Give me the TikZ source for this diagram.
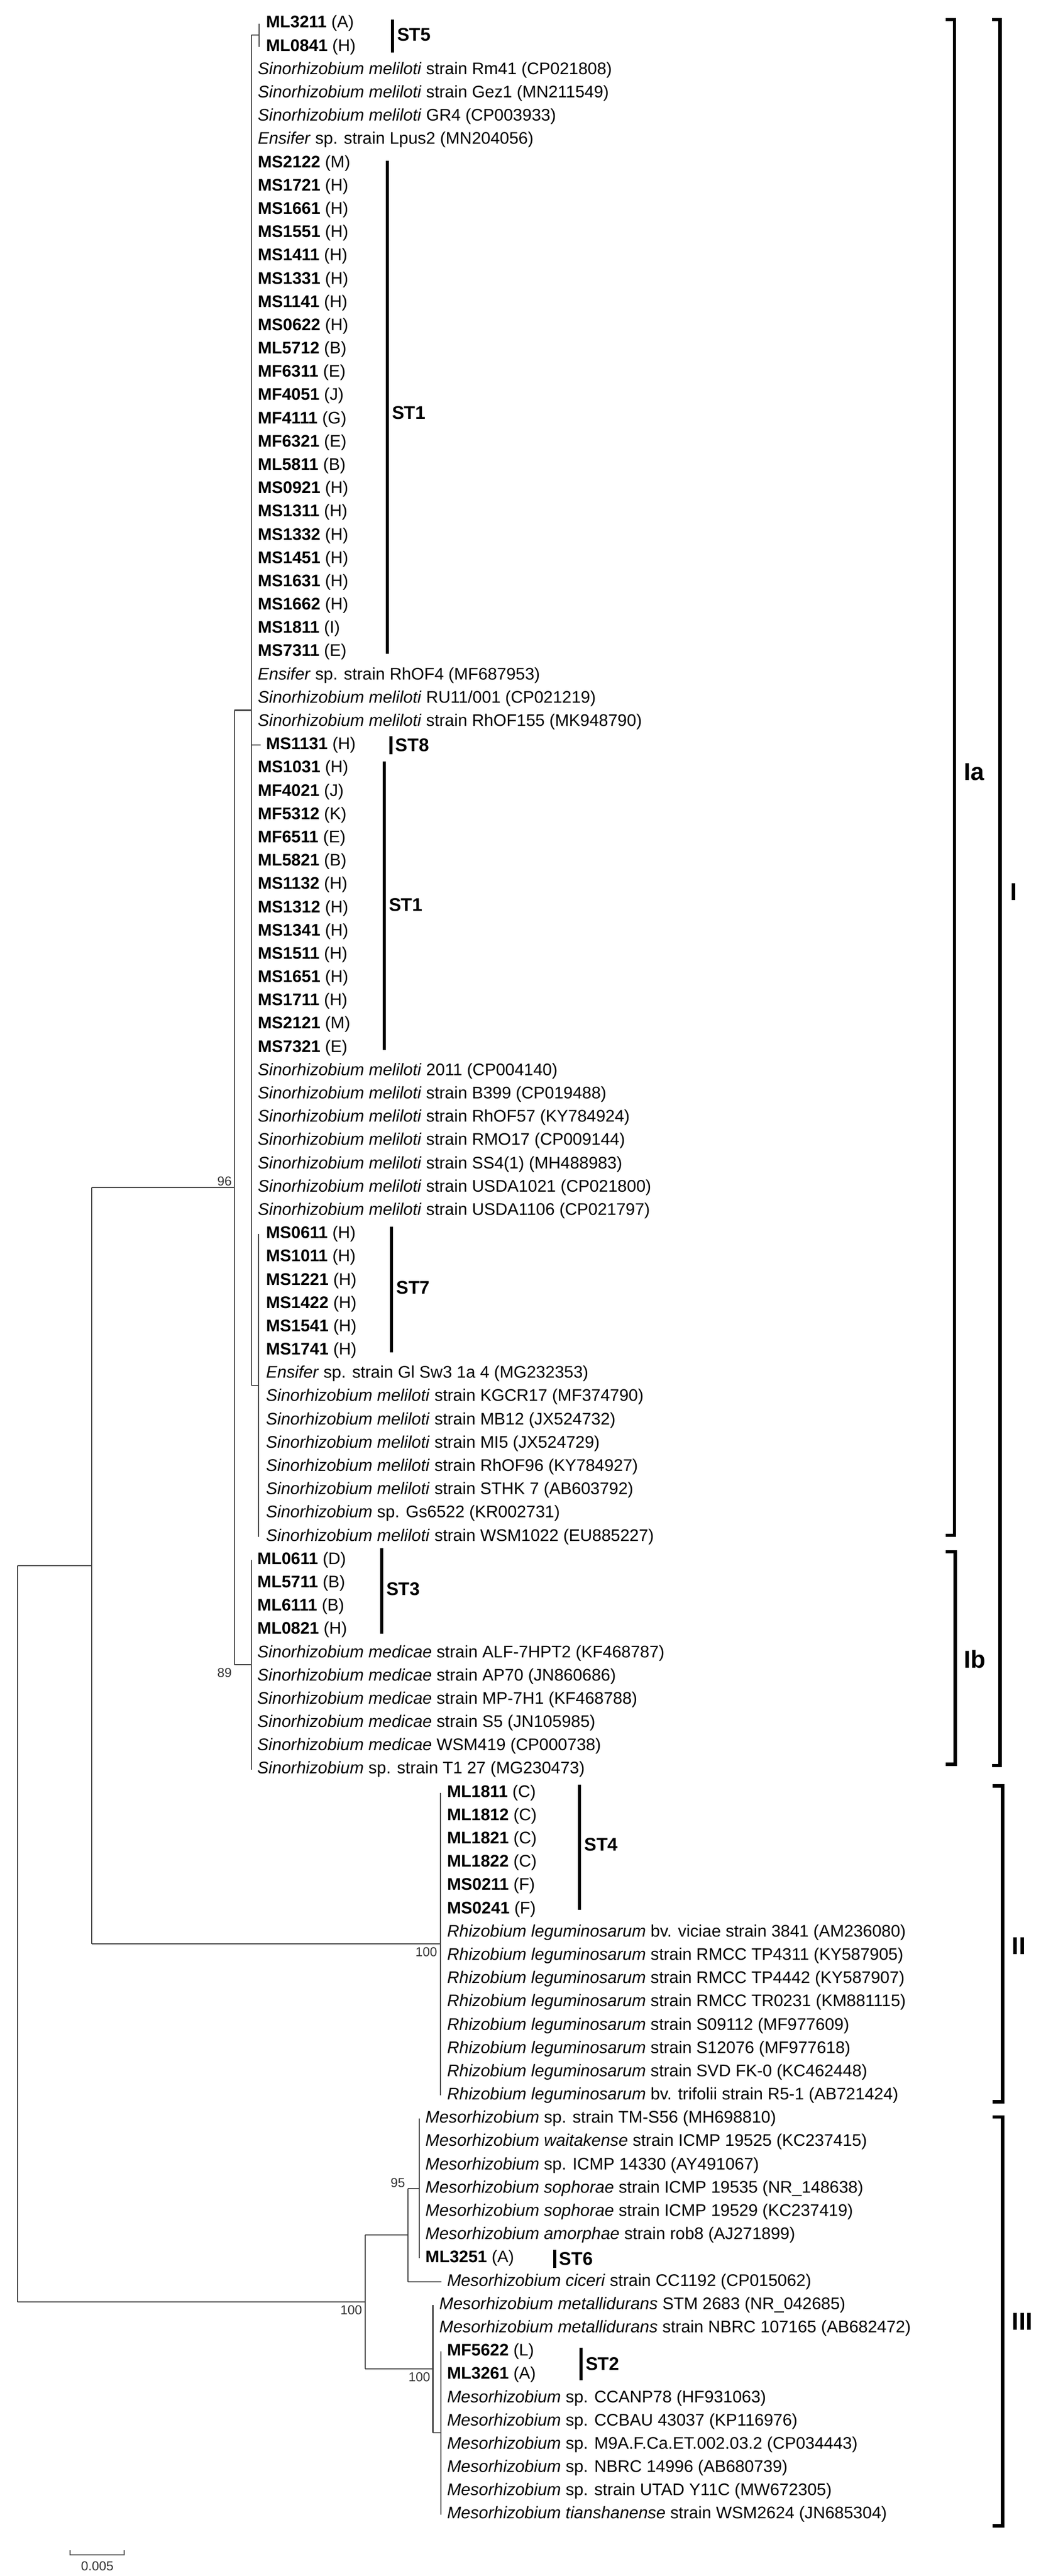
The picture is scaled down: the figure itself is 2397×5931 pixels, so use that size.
\documentclass[tikz,border=0pt]{standalone}
\usepackage{fontspec}
\setmainfont{Liberation Sans}
\newcommand\bn[1]{\textbf{#1}}
\newcommand\sn[1]{\textit{#1}}
\begin{document}
\begin{tikzpicture}[x=0.01cm,y=-0.01cm,
  br/.style={draw=black!75,line width=0.7pt},
  lf/.style={anchor=west,inner sep=0pt,font=\fontsize{11}{13}\selectfont},
  bs/.style={inner sep=1pt,font=\fontsize{8.5}{10}\selectfont,text=black!80},
  stbar/.style={line width=2pt},
  stlab/.style={anchor=west,inner sep=0pt,font=\fontsize{12}{14}\selectfont\bfseries},
  brk/.style={line width=2.2pt},
  brklab/.style={anchor=west,inner sep=0pt,font=\fontsize{16}{18}\selectfont\bfseries}]
\useasboundingbox (0,0) rectangle (2397,5931);
% ---------- leaves ----------
\foreach [count=\i] \t in {{\bn{ML3211} (A)},{\bn{ML0841} (H)}}
  \node[lf] (L\i) at (612,{54+53.6*(\i-1)}) {\t};
\foreach [count=\i from 3] \t in {
 {\sn{Sinorhizobium meliloti} strain Rm41 (CP021808)},
 {\sn{Sinorhizobium meliloti} strain Gez1 (MN211549)},
 {\sn{Sinorhizobium meliloti} GR4 (CP003933)},
 {\sn{Ensifer} sp. strain Lpus2 (MN204056)},
 {\bn{MS2122} (M)},{\bn{MS1721} (H)},{\bn{MS1661} (H)},{\bn{MS1551} (H)},
 {\bn{MS1411} (H)},{\bn{MS1331} (H)},{\bn{MS1141} (H)},{\bn{MS0622} (H)},
 {\bn{ML5712} (B)},{\bn{MF6311} (E)},{\bn{MF4051} (J)},{\bn{MF4111} (G)},
 {\bn{MF6321} (E)},{\bn{ML5811} (B)},{\bn{MS0921} (H)},{\bn{MS1311} (H)},
 {\bn{MS1332} (H)},{\bn{MS1451} (H)},{\bn{MS1631} (H)},{\bn{MS1662} (H)},
 {\bn{MS1811} (I)},{\bn{MS7311} (E)},
 {\sn{Ensifer} sp. strain RhOF4 (MF687953)},
 {\sn{Sinorhizobium meliloti} RU11/001 (CP021219)},
 {\sn{Sinorhizobium meliloti} strain RhOF155 (MK948790)}}
  \node[lf] (L\i) at (593,{54+53.6*(\i-1)}) {\t};
\node[lf] (L32) at (612,1715.6) {\bn{MS1131} (H)};
\foreach [count=\i from 33] \t in {
 {\bn{MS1031} (H)},{\bn{MF4021} (J)},{\bn{MF5312} (K)},{\bn{MF6511} (E)},
 {\bn{ML5821} (B)},{\bn{MS1132} (H)},{\bn{MS1312} (H)},{\bn{MS1341} (H)},
 {\bn{MS1511} (H)},{\bn{MS1651} (H)},{\bn{MS1711} (H)},{\bn{MS2121} (M)},
 {\bn{MS7321} (E)},
 {\sn{Sinorhizobium meliloti} 2011 (CP004140)},
 {\sn{Sinorhizobium meliloti} strain B399 (CP019488)},
 {\sn{Sinorhizobium meliloti} strain RhOF57 (KY784924)},
 {\sn{Sinorhizobium meliloti} strain RMO17 (CP009144)},
 {\sn{Sinorhizobium meliloti} strain SS4(1) (MH488983)},
 {\sn{Sinorhizobium meliloti} strain USDA1021 (CP021800)},
 {\sn{Sinorhizobium meliloti} strain USDA1106 (CP021797)}}
  \node[lf] (L\i) at (593,{54+53.6*(\i-1)}) {\t};
\foreach [count=\i from 53] \t in {
 {\bn{MS0611} (H)},{\bn{MS1011} (H)},{\bn{MS1221} (H)},{\bn{MS1422} (H)},
 {\bn{MS1541} (H)},{\bn{MS1741} (H)},
 {\sn{Ensifer} sp. strain Gl Sw3 1a 4 (MG232353)},
 {\sn{Sinorhizobium meliloti} strain KGCR17 (MF374790)},
 {\sn{Sinorhizobium meliloti} strain MB12 (JX524732)},
 {\sn{Sinorhizobium meliloti} strain MI5 (JX524729)},
 {\sn{Sinorhizobium meliloti} strain RhOF96 (KY784927)},
 {\sn{Sinorhizobium meliloti} strain STHK 7 (AB603792)},
 {\sn{Sinorhizobium} sp. Gs6522 (KR002731)},
 {\sn{Sinorhizobium meliloti} strain WSM1022 (EU885227)}}
  \node[lf] (L\i) at (612,{54+53.6*(\i-1)}) {\t};
\foreach [count=\i from 67] \t in {
 {\bn{ML0611} (D)},{\bn{ML5711} (B)},{\bn{ML6111} (B)},{\bn{ML0821} (H)},
 {\sn{Sinorhizobium medicae} strain ALF-7HPT2 (KF468787)},
 {\sn{Sinorhizobium medicae} strain AP70 (JN860686)},
 {\sn{Sinorhizobium medicae} strain MP-7H1 (KF468788)},
 {\sn{Sinorhizobium medicae} strain S5 (JN105985)},
 {\sn{Sinorhizobium medicae} WSM419 (CP000738)},
 {\sn{Sinorhizobium} sp. strain T1 27 (MG230473)}}
  \node[lf] (L\i) at (592,{54+53.6*(\i-1)}) {\t};
\foreach [count=\i from 77] \t in {
 {\bn{ML1811} (C)},{\bn{ML1812} (C)},{\bn{ML1821} (C)},{\bn{ML1822} (C)},
 {\bn{MS0211} (F)},{\bn{MS0241} (F)},
 {\sn{Rhizobium leguminosarum} bv. viciae strain 3841 (AM236080)},
 {\sn{Rhizobium leguminosarum} strain RMCC TP4311 (KY587905)},
 {\sn{Rhizobium leguminosarum} strain RMCC TP4442 (KY587907)},
 {\sn{Rhizobium leguminosarum} strain RMCC TR0231 (KM881115)},
 {\sn{Rhizobium leguminosarum} strain S09112 (MF977609)},
 {\sn{Rhizobium leguminosarum} strain S12076 (MF977618)},
 {\sn{Rhizobium leguminosarum} strain SVD FK-0 (KC462448)},
 {\sn{Rhizobium leguminosarum} bv. trifolii strain R5-1 (AB721424)}}
  \node[lf] (L\i) at (1029,{54+53.6*(\i-1)}) {\t};
\foreach [count=\i from 91] \t in {
 {\sn{Mesorhizobium} sp. strain TM-S56 (MH698810)},
 {\sn{Mesorhizobium waitakense} strain ICMP 19525 (KC237415)},
 {\sn{Mesorhizobium} sp. ICMP 14330 (AY491067)},
 {\sn{Mesorhizobium sophorae} strain ICMP 19535 (NR\_148638)},
 {\sn{Mesorhizobium sophorae} strain ICMP 19529 (KC237419)},
 {\sn{Mesorhizobium amorphae} strain rob8 (AJ271899)},
 {\bn{ML3251} (A)}}
  \node[lf] (L\i) at (979,{54+53.6*(\i-1)}) {\t};
\node[lf] (L98) at (1029,5253.2) {\sn{Mesorhizobium ciceri} strain CC1192 (CP015062)};
\node[lf] (L99) at (1011,5306.8) {\sn{Mesorhizobium metallidurans} STM 2683 (NR\_042685)};
\node[lf] (L100) at (1011,5360.4) {\sn{Mesorhizobium metallidurans} strain NBRC 107165 (AB682472)};
\foreach [count=\i from 101] \t in {
 {\bn{MF5622} (L)},{\bn{ML3261} (A)},
 {\sn{Mesorhizobium} sp. CCANP78 (HF931063)},
 {\sn{Mesorhizobium} sp. CCBAU 43037 (KP116976)},
 {\sn{Mesorhizobium} sp. M9A.F.Ca.ET.002.03.2 (CP034443)},
 {\sn{Mesorhizobium} sp. NBRC 14996 (AB680739)},
 {\sn{Mesorhizobium} sp. strain UTAD Y11C (MW672305)},
 {\sn{Mesorhizobium tianshanense} strain WSM2624 (JN685304)}}
  \node[lf] (L\i) at (1029,{54+53.6*(\i-1)}) {\t};
% ---------- internal nodes ----------
\coordinate (n12) at (597,80.8);
\coordinate (nS7) at (596,3189.6);
\coordinate (nIa) at (579,1635.2);
\coordinate (nIb) at (579,3832.8);
\coordinate (nI) at (540,2734);
\coordinate (nII) at (1014,4476);
\coordinate (nSin) at (211,3605);
\coordinate (nM1) at (966,5038.8);
\coordinate (nM2) at (940,5146);
\coordinate (nM4) at (1015,5601.6);
\coordinate (nM3) at (997,5454.2);
\coordinate (nIII) at (841,5300);
\coordinate (root) at (40,4452.5);
% ---------- branches ----------
\draw[br] (597,54) -- (597,107.6);
\draw[br] (579,80.8) -- (n12);
\draw[br] (579,80.8) -- (579,3189.6);
\draw[br] (579,1715.6) -- (600,1715.6);
\draw[br] (596,2841.2) -- (596,3538);
\draw[br] (579,3189.6) -- (nS7);
\draw[br] (579,3591.6) -- (579,4074);
\draw[br] (540,1635.2) -- (nIa);
\draw[br] (540,3832.8) -- (nIb);
\draw[br] (540,1635.2) -- (540,3832.8);
\draw[br] (1014,4127.6) -- (1014,4824.4);
\draw[br] (211,2734) -- (nI);
\draw[br] (211,4476) -- (nII);
\draw[br] (211,2734) -- (211,4476);
\draw[br] (966,4878) -- (966,5199.6);
\draw[br] (940,5038.8) -- (nM1);
\draw[br] (940,5253.2) -- (1017,5253.2);
\draw[br] (940,5038.8) -- (940,5253.2);
\draw[br] (1015,5414) -- (1015,5789.2);
\draw[br] (997,5601.6) -- (nM4);
\draw[br] (997,5306.8) -- (997,5601.6);
\draw[br] (841,5146) -- (nM2);
\draw[br] (841,5454.2) -- (nM3);
\draw[br] (841,5146) -- (841,5454.2);
\draw[br] (40,3605) -- (nSin);
\draw[br] (40,5300) -- (nIII);
\draw[br] (40,3605) -- (40,5300);
% ---------- bootstrap ----------
\node[bs,anchor=south east] (b96) at (538,2734) {96};
\node[bs,anchor=north east] (b89) at (538,3836) {89};
\node[bs,anchor=north east] (b100a) at (1011,4480) {100};
\node[bs,anchor=south east] (b95) at (937,5040) {95};
\node[bs,anchor=north east] (b100b) at (995,5458) {100};
\node[bs,anchor=north east] (b100c) at (838,5304) {100};
% ---------- ST bars ----------
\draw[stbar] (904,45) -- (904,121);   \node[stlab] (st5) at (914,80) {ST5};
\draw[stbar] (892,370) -- (892,1505); \node[stlab] (st1a) at (902,950) {ST1};
\draw[stbar] (900,1695) -- (900,1736); \node[stlab] (st8) at (910,1716) {ST8};
\draw[stbar] (885,1753) -- (885,2418); \node[stlab] (st1b) at (895,2083) {ST1};
\draw[stbar] (902,2824) -- (902,3114); \node[stlab] (st7) at (912,2965) {ST7};
\draw[stbar] (879,3564) -- (879,3761); \node[stlab] (st3) at (889,3659) {ST3};
\draw[stbar] (1335,4109) -- (1335,4397); \node[stlab] (st4) at (1345,4247) {ST4};
\draw[stbar] (1277,5180) -- (1277,5222); \node[stlab] (st6) at (1287,5200) {ST6};
\draw[stbar] (1338,5405) -- (1338,5480); \node[stlab] (st2) at (1348,5442) {ST2};
% ---------- brackets ----------
\draw[brk] (2178,45) -- (2198,45) -- (2198,3535) -- (2178,3535);
\draw[brk] (2178,3573) -- (2200,3573) -- (2200,4062) -- (2178,4062);
\draw[brk] (2284,45) -- (2303,45) -- (2303,4065) -- (2284,4065);
\draw[brk] (2286,4112) -- (2309,4112) -- (2309,4839) -- (2286,4839);
\draw[brk] (2286,4874) -- (2309,4874) -- (2309,5815) -- (2286,5815);
\node[brklab] (cIa) at (2219,1778) {Ia};
\node[brklab] (cIb) at (2219,3820) {Ib};
\node[brklab] (cI) at (2326,2053) {I};
\node[brklab] (cII) at (2330,4480) {II};
\node[brklab] (cIII) at (2330,5345) {III};
% ---------- scale ----------
\draw[br] (161,5872) -- (161,5882) -- (286,5882) -- (286,5872);
\node[bs] (scl) at (224,5908) {0.005};
\end{tikzpicture}
\end{document}
